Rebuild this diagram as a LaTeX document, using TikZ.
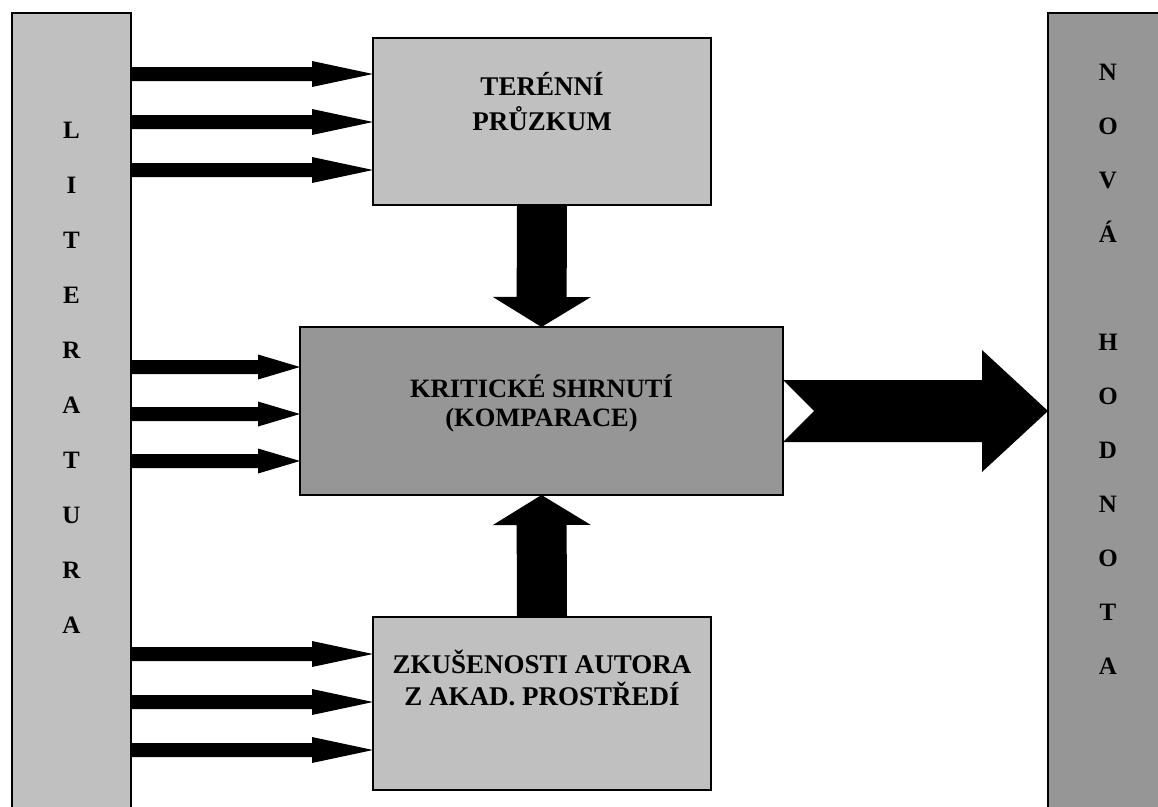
\documentclass[tikz,border=0pt]{standalone}
\usepackage{fontspec}
\setmainfont{Liberation Serif}
\usetikzlibrary{calc}
\definecolor{lightg}{RGB}{192,192,192}
\definecolor{darkg}{RGB}{150,150,150}
\newcommand\blockarrow[5]{%
  \coordinate (bah) at ($(#2)!#5!(#1)$);
  \fill[black] ($(#1)!#3!90:(#2)$) -- ($(bah)!#3!90:(#2)$) -- ($(bah)!#4!90:(#2)$) -- (#2)
    -- ($(bah)!#4!-90:(#2)$) -- ($(bah)!#3!-90:(#2)$) -- ($(#1)!#3!-90:(#2)$) -- cycle;}
\begin{document}
\begin{tikzpicture}[x=1pt,y=-1pt,
  boxn/.style={draw=black, line width=1.4pt, inner sep=0pt, outer sep=0pt, anchor=north west},
  bigtxt/.style={font=\fontsize{27}{32}\selectfont\bfseries, inner sep=0pt, anchor=base},
  midtxt/.style={font=\fontsize{26.5}{30}\selectfont\bfseries, inner sep=0pt, anchor=base},
  lettr/.style={font=\fontsize{25}{30}\selectfont\bfseries, inner sep=0pt, anchor=base}]
\useasboundingbox (0,0) rectangle (1158,806);
\clip (0,0) rectangle (1158,806);
% bars
\node[boxn, fill=lightg, minimum width=119pt, minimum height=830pt] (lit) at (12,13) {};
\node[boxn, fill=darkg, minimum width=130pt, minimum height=830pt] (nova) at (1048,13) {};
% boxes
\node[boxn, fill=lightg, minimum width=338pt, minimum height=167pt] (top) at (373,38) {};
\node[boxn, fill=darkg, minimum width=483pt, minimum height=168pt] (mid) at (300,327) {};
\node[boxn, fill=lightg, minimum width=338pt, minimum height=173pt] (bot) at (373,617) {};
% texts
\node[bigtxt] (t1) at (542,95) {TERÉNNÍ};
\node[bigtxt] (t2) at (542,130) {PRŮZKUM};
\node[midtxt] (m1) at (541.5,397) {KRITICKÉ SHRNUTÍ};
\node[midtxt] (m2) at (541.5,426) {(KOMPARACE)};
\node[bigtxt] (b1) at (542,673) {ZKUŠENOSTI AUTORA};
\node[bigtxt] (b2) at (542,705) {Z AKAD. PROSTŘEDÍ};
% letters
\foreach \c [count=\i from 0] in {L,I,T,E,R,A,T,U,R,A}
  \node[lettr] (l\i) at (71.5,{138.3+55*\i}) {\c};
\foreach \c/\k [count=\i] in {N/0,O/1,V/2,Á/3,H/5,O/6,D/7,N/8,O/9,T/10,A/11}
  \node[lettr] (r\i) at (1108,{80.3+54*\k}) {\c};
% small arrows
\foreach \yy [count=\i] in {74,122,170} {
  \coordinate (as\i) at (lit.east |- 0,\yy);
  \coordinate (ae\i) at (top.west |- 0,\yy);
  \blockarrow{as\i}{ae\i}{7pt}{13pt}{61pt}
}
\foreach \yy [count=\i] in {367,414,461} {
  \coordinate (ms\i) at (lit.east |- 0,\yy);
  \coordinate (me\i) at (mid.west |- 0,\yy);
  \blockarrow{ms\i}{me\i}{7pt}{12.5pt}{42pt}
}
\foreach \yy [count=\i] in {654,702,750} {
  \coordinate (bs\i) at (lit.east |- 0,\yy);
  \coordinate (be\i) at (bot.west |- 0,\yy);
  \blockarrow{bs\i}{be\i}{7pt}{13pt}{61pt}
}
% vertical arrows
\blockarrow{top.south}{mid.north}{25pt}{49pt}{30pt}
\blockarrow{bot.north}{mid.south}{25pt}{49pt}{30pt}
% big notched arrow
\coordinate (gs) at (mid.east);
\coordinate (ge) at (nova.west |- mid.east);
\coordinate (gh) at ($(ge)!66pt!(gs)$);
\fill[black] ($(gs)!31pt!90:(ge)$) -- ($(gh)!31pt!90:(ge)$) -- ($(gh)!61pt!90:(ge)$) -- (ge)
  -- ($(gh)!61pt!-90:(ge)$) -- ($(gh)!31pt!-90:(ge)$) -- ($(gs)!31pt!-90:(ge)$)
  -- ($(gs)!31pt!(ge)$) -- cycle;
\end{tikzpicture}
\end{document}
